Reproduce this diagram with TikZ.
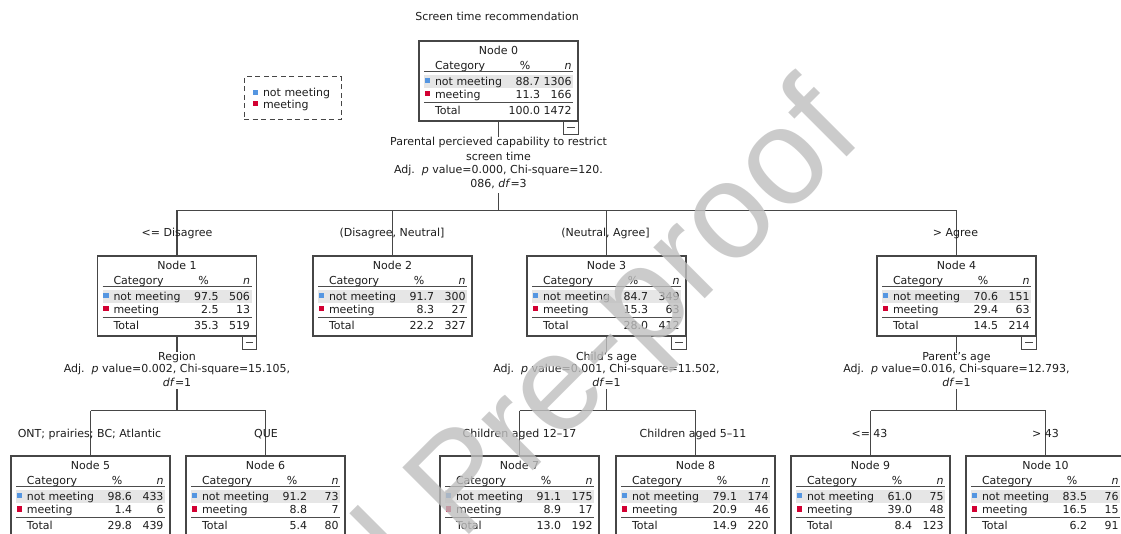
\documentclass[tikz,border=0pt]{standalone}
\usepackage{fontspec}
\setmainfont{DejaVu Sans}
\newfontfamily\wmfont{Liberation Sans}
\definecolor{bluesq}{RGB}{85,150,225}
\definecolor{redsq}{RGB}{210,0,50}
\definecolor{rowgray}{RGB}{230,230,230}
\definecolor{boxline}{RGB}{70,70,70}
\definecolor{txtcol}{RGB}{30,30,30}
\tikzset{
  txt/.style={inner sep=0pt, outer sep=0pt, font=\fontsize{11}{13}\selectfont, text=txtcol},
  nbox/.style={draw=boxline, line width=1.2pt, minimum width=159pt, minimum height=80pt, inner sep=0pt, outer sep=0pt},
  conn/.style={draw=boxline, line width=1.2pt},
  hrule/.style={draw=black!70, line width=1.5pt},
  minusbox/.style={draw=boxline, line width=1pt, minimum width=14.5pt, minimum height=13.5pt, inner sep=0pt, outer sep=0pt},
}
% #1 number, #2 left, #3 top, #4 p1, #5 n1, #6 p2, #7 n2, #8 ptot, #9 ntot
\newcommand\ctn[9]{%
  \fill[rowgray] (#2+5,#3+34) rectangle (#2+154,#3+47);
  \node[nbox] (n#1) at (#2+79.5,#3+40) {};
  \node[txt,anchor=base] (n#1title) at (#2+79.5,#3+13.5) {Node #1};
  \node[txt,anchor=base west] (n#1cat) at (#2+16,#3+28.5) {Category};
  \node[txt,anchor=base] (n#1pct) at (#2+106,#3+28.5) {\%};
  \node[txt,anchor=base east] (n#1n) at (#2+152.5,#3+28.5) {\itshape n};
  \draw[hrule] (#2+5,#3+30.5) -- (#2+154,#3+30.5);
  \fill[bluesq] (#2+5.8,#3+36.7) rectangle (#2+11,#3+42.2);
  \node[txt,anchor=base west] (n#1ra) at (#2+16,#3+44.5) {not meeting};
  \node[txt,anchor=base east] (n#1rap) at (#2+121,#3+44.5) {#4};
  \node[txt,anchor=base east] (n#1ran) at (#2+152.5,#3+44.5) {#5};
  \fill[redsq] (#2+5.8,#3+50) rectangle (#2+11,#3+55.5);
  \node[txt,anchor=base west] (n#1rb) at (#2+16,#3+57.2) {meeting};
  \node[txt,anchor=base east] (n#1rbp) at (#2+121,#3+57.2) {#6};
  \node[txt,anchor=base east] (n#1rbn) at (#2+152.5,#3+57.2) {#7};
  \draw[hrule] (#2+5,#3+61.5) -- (#2+154,#3+61.5);
  \node[txt,anchor=base west] (n#1tot) at (#2+16,#3+73.8) {Total};
  \node[txt,anchor=base east] (n#1totp) at (#2+121,#3+73.8) {#8};
  \node[txt,anchor=base east] (n#1totn) at (#2+152.5,#3+73.8) {#9};
}
\newcommand\minusof[1]{%
  \node[minusbox,anchor=north east] (n#1m) at (n#1.south east) {};
  \draw[boxline,line width=1pt] ([xshift=3.5pt]n#1m.west) -- ([xshift=-3.5pt]n#1m.east);
}
\begin{document}
\begin{tikzpicture}[x=1pt,y=-1pt]
\useasboundingbox (0,0) rectangle (1121,534);
\clip (0,0) rectangle (1121,534);
\fill[white] (0,0) rectangle (1121,534);

\node[txt,anchor=base] (title) at (497,21) {Screen time recommendation};

% legend
\node[draw=boxline, dash pattern=on 5pt off 3.5pt, line width=1pt, minimum width=97pt, minimum height=43pt, inner sep=0pt] (legend) at (292.5,98.5) {};
\fill[bluesq] (252.5,90.5) rectangle (257.5,95.5);
\node[txt,anchor=base west] (lega) at (263,97) {not meeting};
\fill[redsq] (252.5,101.5) rectangle (257.5,106.5);
\node[txt,anchor=base west] (legb) at (263,108.5) {meeting};

% nodes
\ctn{0}{419}{41}{88.7}{1306}{11.3}{166}{100.0}{1472}
\ctn{1}{97.5}{256}{97.5}{506}{2.5}{13}{35.3}{519}
\ctn{2}{313}{256}{91.7}{300}{8.3}{27}{22.2}{327}
\ctn{3}{527}{256}{84.7}{349}{15.3}{63}{28.0}{412}
\ctn{4}{877}{256}{70.6}{151}{29.4}{63}{14.5}{214}
\ctn{5}{11}{456}{98.6}{433}{1.4}{6}{29.8}{439}
\ctn{6}{186}{456}{91.2}{73}{8.8}{7}{5.4}{80}
\ctn{7}{440}{456}{91.1}{175}{8.9}{17}{13.0}{192}
\ctn{8}{616}{456}{79.1}{174}{20.9}{46}{14.9}{220}
\ctn{9}{791}{456}{61.0}{75}{39.0}{48}{8.4}{123}
\ctn{10}{966}{456}{83.5}{76}{16.5}{15}{6.2}{91}
\minusof{0}
\minusof{1}
\minusof{3}
\minusof{4}

% split of node 0
\node[txt,anchor=base] (l0a) at (498.5,145.7) {Parental percieved capability to restrict};
\node[txt,anchor=base] (l0b) at (498.5,161) {screen time};
\node[txt,anchor=base] (l0c) at (498.5,173.5) {Adj.\ \ \textit{p} value=0.000, Chi-square=120.};
\node[txt,anchor=base] (l0d) at (498.5,188) {086, \textit{df}=3};
\coordinate (hy0) at (0,210.5);
\draw[conn] (n0.south) -- (l0a.north);
\draw[conn] ([yshift=-4pt]l0d.south) -- (l0d.south |- hy0);
\draw[conn] (n1.north |- hy0) -- (n4.north |- hy0);
\foreach \k in {1,2,3,4} {\draw[conn] (n\k.north |- hy0) -- (n\k.north);}
\node[txt,anchor=base] (b1) at (177,237) {<= Disagree};
\node[txt,anchor=base] (b2) at (392,237) {(Disagree, Neutral]};
\node[txt,anchor=base] (b3) at (605.5,237) {(Neutral, Agree]};
\node[txt,anchor=base] (b4) at (955.5,237) {> Agree};

% split of node 1
\node[txt,anchor=base] (l1a) at (177,360.7) {Region};
\node[txt,anchor=base] (l1b) at (177,372.5) {Adj.\ \ \textit{p} value=0.002, Chi-square=15.105,};
\node[txt,anchor=base] (l1c) at (177,386) {\textit{df}=1};
\coordinate (hy1) at (0,410.5);
\draw[conn] (n1.south) -- (l1a.north);
\draw[conn] ([yshift=-3pt]l1c.south) -- (l1c.south |- hy1);
\draw[conn] (n5.north |- hy1) -- (n6.north |- hy1);
\foreach \k in {5,6} {\draw[conn] (n\k.north |- hy1) -- (n\k.north);}
\node[txt,anchor=base] (b5) at (89.5,437) {ONT; prairies; BC; Atlantic};
\node[txt,anchor=base] (b6) at (266,437) {QUE};

% split of node 3
\node[txt,anchor=base] (l3a) at (606.5,360.7) {Child's age};
\node[txt,anchor=base] (l3b) at (606.5,372.5) {Adj.\ \ \textit{p} value=0.001, Chi-square=11.502,};
\node[txt,anchor=base] (l3c) at (606.5,386) {\textit{df}=1};
\draw[conn] (n3.south) -- (l3a.north);
\draw[conn] ([yshift=-3pt]l3c.south) -- (l3c.south |- hy1);
\draw[conn] (n7.north |- hy1) -- (n8.north |- hy1);
\foreach \k in {7,8} {\draw[conn] (n\k.north |- hy1) -- (n\k.north);}
\node[txt,anchor=base] (b7) at (519.5,437) {Children aged 12\textendash 17};
\node[txt,anchor=base] (b8) at (693,437) {Children aged 5\textendash 11};

% split of node 4
\node[txt,anchor=base] (l4a) at (956.5,360.7) {Parent's age};
\node[txt,anchor=base] (l4b) at (956.5,372.5) {Adj.\ \ \textit{p} value=0.016, Chi-square=12.793,};
\node[txt,anchor=base] (l4c) at (956.5,386) {\textit{df}=1};
\draw[conn] (n4.south) -- (l4a.north);
\draw[conn] ([yshift=-3pt]l4c.south) -- (l4c.south |- hy1);
\draw[conn] (n9.north |- hy1) -- (n10.north |- hy1);
\foreach \k in {9,10} {\draw[conn] (n\k.north |- hy1) -- (n\k.north);}
\node[txt,anchor=base] (b9) at (869.5,437) {<= 43};
\node[txt,anchor=base] (b10) at (1045.5,437) {> 43};

% watermark
\node[rotate=45, anchor=base east, inner sep=0pt, font=\wmfont\fontsize{137}{137}\selectfont, text=black!25, opacity=0.8] (wm) at (866,138) {Journal Pre-proof};
\end{tikzpicture}
\end{document}
